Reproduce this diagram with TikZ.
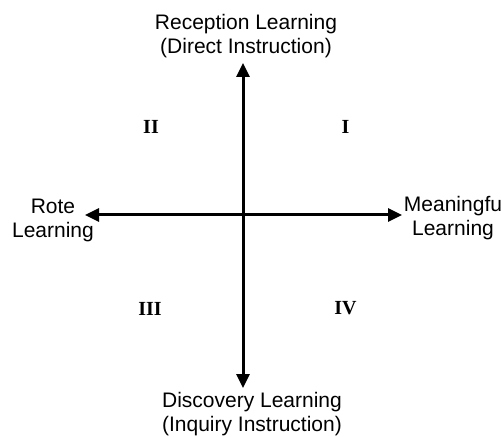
\documentclass[tikz,border=0pt]{standalone}
\usepackage{fontspec}
\setmainfont{Liberation Sans}
\newfontfamily\numfont{Liberation Serif}
\usepackage{tikz}
\usetikzlibrary{arrows.meta}

\tikzset{
  axislabel/.style={align=center, inner sep=0pt, font=\fontsize{10.5}{12}\selectfont},
  quadrant/.style={inner sep=0pt, font=\numfont\bfseries\fontsize{10}{12}\selectfont}
}

\begin{document}
\begin{tikzpicture}[x=0.5pt, y=-0.5pt, >={Triangle[length=7pt,width=6.5pt]}]
  \useasboundingbox (0,0) rectangle (501,437);

  % axis ends
  \coordinate (O) at (243,215);
  \coordinate (N) at (243,63);
  \coordinate (S) at (243,388);
  \coordinate (W) at (85,215);
  \coordinate (E) at (402,215);

  \draw [<->,line width=1.5pt] (W) -- (E);
  \draw [<->,line width=1.5pt] (S) -- (N);

  % axis labels
  \node [axislabel] (rec) at (246,36) {Reception Learning\\(Direct Instruction)};
  \node [axislabel] (dis) at (252,414) {Discovery Learning\\(Inquiry Instruction)};
  \node [axislabel] (rote) at (53,220) {Rote\\Learning};
  \node [axislabel] (mean) at (453,218) {Meaningfu\\Learning};

  % quadrants
  \node [quadrant] (q1) at (345.5,126.5) {I};
  \node [quadrant] (q2) at (151,126.5) {II};
  \node [quadrant] (q3) at (150,308.5) {III};
  \node [quadrant] (q4) at (345.5,308.5) {IV};
\end{tikzpicture}
\end{document}
